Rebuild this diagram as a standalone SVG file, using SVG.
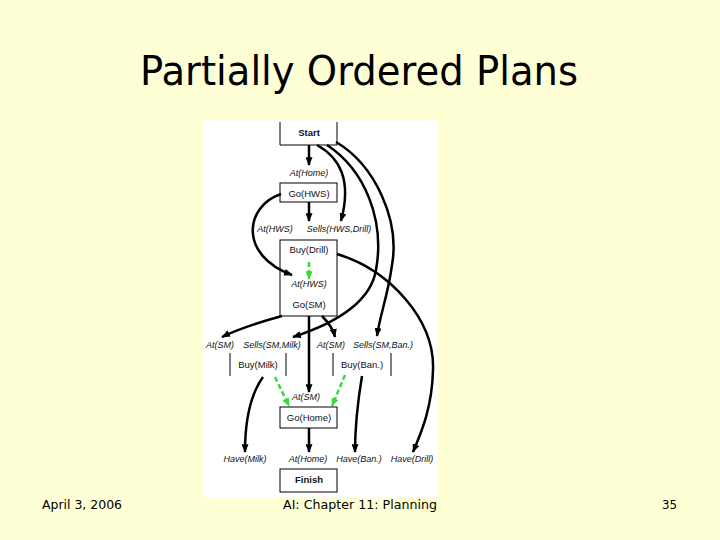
<svg xmlns="http://www.w3.org/2000/svg" width="720" height="540" viewBox="0 0 720 540">
<defs>
<marker id="ah" viewBox="0 0 10 8" markerUnits="userSpaceOnUse" markerWidth="9" markerHeight="7" refX="9" refY="4" orient="auto"><path d="M0,0 L10,4 L0,8 z" fill="#000"/></marker>
<marker id="ag" viewBox="0 0 10 8" markerUnits="userSpaceOnUse" markerWidth="9" markerHeight="7" refX="9" refY="4" orient="auto"><path d="M0,0 L10,4 L0,8 z" fill="#33dd33"/></marker>
<style>
.box{fill:none;stroke:#000;stroke-width:1}
.act{font-family:"Liberation Sans",Arial,sans-serif;font-size:9.5px;text-anchor:middle;fill:#111}
.bold{font-weight:bold}
.cond{font-family:"Liberation Sans",Arial,sans-serif;font-size:9px;font-style:italic;text-anchor:middle;fill:#111}
.e{fill:none;stroke:#000;stroke-width:2.5;marker-end:url(#ah)}
.g{fill:none;stroke:#33dd33;stroke-width:2.5;stroke-dasharray:5,3;marker-end:url(#ag)}
.foot{font-family:"DejaVu Sans",Tahoma,sans-serif;font-size:12px;fill:#000}
</style>
</defs>
<rect width="720" height="540" fill="#ffffd6"/>
<text x="359" y="85" font-family="DejaVu Sans,Tahoma,sans-serif" font-size="40" text-anchor="middle" textLength="438" lengthAdjust="spacingAndGlyphs" fill="#000">Partially Ordered Plans</text>
<rect x="204" y="120" width="234" height="377" fill="#fff"/>
<g id="edges">
<path class="e" d="M309,145 V165"/>
<path class="e" d="M309,202 V221"/>
<path class="e" d="M317,145 C340,158 352,180 341,221"/>
<path class="e" d="M281,194 C245,206 238,255 292,275"/>
<path class="e" d="M327,145 C365,170 385,220 376,270 C370,305 330,325 293,337"/>
<path class="e" d="M336,142 C375,165 400,220 392,265 C388,295 380,315 377,336"/>
<path class="e" d="M337,254 C390,270 435,320 433,370 C432,410 420,435 413,452"/>
<path class="g" d="M309,262 V279"/>
<path class="e" d="M282,316 C260,322 240,328 222,337"/>
<path class="e" d="M322,316 C328,322 333,328 335,337"/>
<path class="e" d="M309,316 V392"/>
<path class="e" d="M263,377 C250,395 245,420 245,452"/>
<path class="e" d="M362,376 C358,400 355,425 355,452"/>
<path class="g" d="M275,377 L289,406"/>
<path class="g" d="M345,375 L332,406"/>
<path class="e" d="M309,428 V452"/>
</g>
<g id="start"><path class="box" d="M280,122 V145 H337 V122"/><text class="act bold" x="309" y="136">Start</text></g>
<g id="c-athome1"><text class="cond" x="309" y="176">At(Home)</text></g>
<g id="gohws"><rect class="box" x="280" y="183" width="57" height="19"/><text class="act" x="309" y="197">Go(HWS)</text></g>
<g id="c-athws1"><text class="cond" x="275" y="232">At(HWS)</text></g>
<g id="c-sellsdrill"><text class="cond" x="339" y="232">Sells(HWS,Drill)</text></g>
<g id="buydrill-gosm"><rect class="box" x="280" y="240" width="57" height="76"/><text class="act" x="309" y="253">Buy(Drill)</text><text class="cond" x="309" y="287">At(HWS)</text><text class="act" x="309" y="308">Go(SM)</text></g>
<g id="c-atsm1"><text class="cond" x="220" y="348">At(SM)</text></g>
<g id="c-sellsmilk"><text class="cond" x="272" y="348">Sells(SM,Milk)</text></g>
<g id="c-atsm2"><text class="cond" x="331" y="348">At(SM)</text></g>
<g id="c-sellsban"><text class="cond" x="383" y="348">Sells(SM,Ban.)</text></g>
<g id="buymilk"><path class="box" d="M230,353 V376 M286,353 V376"/><text class="act" x="258" y="368">Buy(Milk)</text></g>
<g id="buyban"><path class="box" d="M333,353 V376 M391,353 V376"/><text class="act" x="362" y="368">Buy(Ban.)</text></g>
<g id="c-atsm3"><text class="cond" x="306" y="400">At(SM)</text></g>
<g id="gohome"><rect class="box" x="280" y="407" width="57" height="21"/><text class="act" x="309" y="421">Go(Home)</text></g>
<g id="c-havemilk"><text class="cond" x="245" y="462">Have(Milk)</text></g>
<g id="c-athome2"><text class="cond" x="308" y="462">At(Home)</text></g>
<g id="c-haveban"><text class="cond" x="359" y="462">Have(Ban.)</text></g>
<g id="c-havedrill"><text class="cond" x="412" y="462">Have(Drill)</text></g>
<g id="finish"><rect class="box" x="280" y="469" width="57" height="23"/><text class="act bold" x="309" y="483">Finish</text></g>
<text class="foot" x="42" y="509" textLength="80" lengthAdjust="spacingAndGlyphs">April 3, 2006</text>
<text class="foot" x="283" y="509" textLength="154" lengthAdjust="spacingAndGlyphs">AI: Chapter 11: Planning</text>
<text class="foot" x="662" y="509" textLength="15" lengthAdjust="spacingAndGlyphs">35</text>
</svg>
